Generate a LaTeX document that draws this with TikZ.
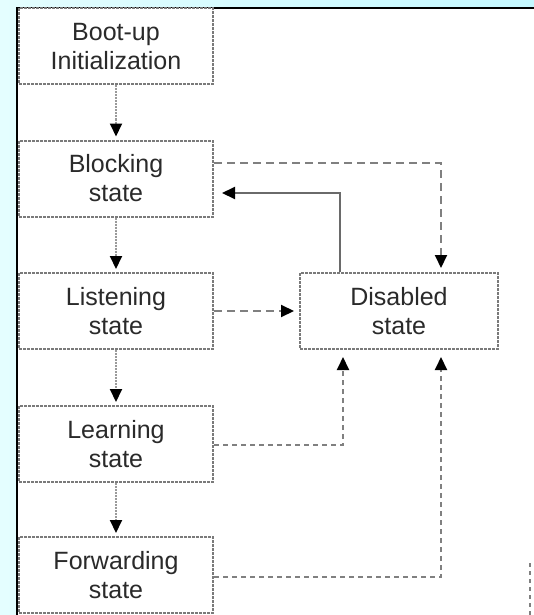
\documentclass[tikz,border=0pt]{standalone}
\usepackage{fontspec}
\setmainfont{Liberation Sans}
\usetikzlibrary{arrows.meta}
\definecolor{bgcyan}{HTML}{E4FEFF}
\definecolor{bgcyanr}{HTML}{C4F8FF}
\definecolor{boxgray}{HTML}{7A7A7A}
\definecolor{linkgray}{HTML}{9A9A9A}
\definecolor{dashgray}{HTML}{808080}
\definecolor{solidgray}{HTML}{6A6A6A}
\definecolor{txt}{HTML}{2A2A2A}
\tikzset{
  statebox/.style={draw=boxgray, line width=2pt, dash pattern=on 3pt off 1pt, fill=white,
    minimum width=194pt, minimum height=76pt, inner sep=0pt, align=center,
    font=\fontsize{25}{29}\selectfont, text=txt},
  tip/.style={-{Triangle[length=13pt,width=12pt,color=black]}},
  downlink/.style={draw=linkgray, line width=2pt, dash pattern=on 2pt off 1pt, tip, shorten >=3pt},
  dashlink/.style={draw=dashgray, line width=2pt, dash pattern=on 8pt off 5pt, tip},
  shortdash/.style={draw=dashgray, line width=2pt, dash pattern=on 5pt off 4pt, tip},
  solidlink/.style={draw=solidgray, line width=2pt, tip},
}
\begin{document}
\begin{tikzpicture}[x=1pt,y=-1pt]
\useasboundingbox (0,0) rectangle (534,615);
\shade[left color=bgcyan, right color=bgcyanr] (0,0) rectangle (534,615);
\fill[white] (17,8) rectangle (534,615);
\draw[black, line width=2pt] (17,615) -- (17,8) -- (534,8);

\node[statebox] (boot) at (116,46.5) {Boot-up\\Initialization};
\node[statebox] (block) at (116,178.5) {Blocking\\state};
\node[statebox] (listen) at (116,311) {Listening\\state};
\node[statebox] (learn) at (116,444) {Learning\\state};
\node[statebox] (fwd) at (116,575) {Forwarding\\state};
\node[statebox, minimum width=198pt] (dis) at (399,311) {Disabled\\state};

\draw[downlink] (boot.south) -- (block.north);
\draw[downlink] (block.south) -- (listen.north);
\draw[downlink] (listen.south) -- (learn.north);
\draw[downlink] (learn.south) -- (fwd.north);

\draw[dashlink, shorten >=4pt] ([yshift=15.5pt]block.east) -| ([xshift=42pt]dis.north);
\draw[solidlink, shorten >=8pt] ([xshift=-59pt]dis.north) |- ([yshift=-14.5pt]block.east);
\draw[dashlink, shorten >=5pt] (listen.east) -- (dis.west);
\draw[shortdash, shorten >=7pt] ([yshift=-1pt]learn.east) -| ([xshift=-56pt]dis.south);
\draw[shortdash, shorten >=7pt] ([yshift=-2pt]fwd.east) -| ([xshift=42pt]dis.south);

\coordinate (marktop) at (530,563);
\coordinate (markbot) at (530,615);
\draw[dashgray, line width=2pt, dash pattern=on 4pt off 4pt] (marktop) -- (markbot);
\end{tikzpicture}
\end{document}
